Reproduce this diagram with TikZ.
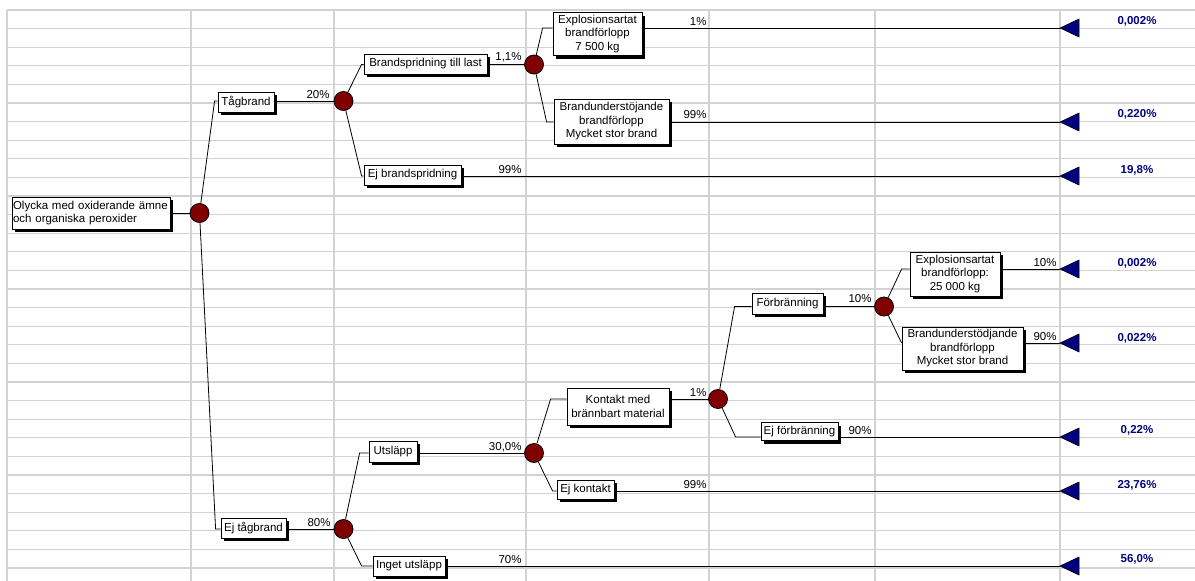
\documentclass[tikz,border=0pt]{standalone}
\usepackage{fontspec}
\setmainfont{Liberation Sans}
\usetikzlibrary{shadows}

\definecolor{eventred}{HTML}{800000}
\definecolor{endblue}{HTML}{000080}
\definecolor{gridgray}{HTML}{D2D2D2}
\newcommand\treefont{\fontsize{11.5}{13.5}\selectfont}

\tikzset{
  gridline/.style={gridgray, line width=1.3pt},
  event/.style={circle, draw, fill=eventred, minimum size=19pt, inner sep=0pt},
  outcome/.style={draw, fill=white, inner sep=1.5pt, align=center, font=\treefont,
    drop shadow={shadow xshift=3pt, shadow yshift=-3pt, fill=black, opacity=1}},
  prob/.style={font=\treefont, inner sep=0pt, anchor=base east},
  endmark/.style={draw, fill=endblue, line width=0.6pt},
  freq/.style={font=\treefont\bfseries, text=endblue, inner sep=0pt, anchor=base},
}

\begin{document}
\begin{tikzpicture}[x=1pt, y=-1pt, line width=0.8pt]
  \useasboundingbox (0,0) rectangle (1195,581);

  % spreadsheet grid
  \foreach \k in {0,...,30}
    \draw[gridline] (7,10+18.6*\k) -- (1195,10+18.6*\k);
  \foreach \x in {7,191,334,526,709,875,1060}
    \draw[gridline] (\x,10) -- (\x,581);

  % boxes
  \node[outcome, minimum width=158pt, minimum height=32pt, text width=156pt, inner sep=1pt, align=left] (root) at (91,213)
    {Olycka med oxiderande ämne\\och organiska peroxider};
  \node[outcome, minimum width=56pt, minimum height=20pt] (tag) at (246,102) {Tågbrand};
  \node[outcome, minimum width=65pt, minimum height=20pt] (ejtag) at (253.5,528) {Ej tågbrand};
  \node[outcome, minimum width=123pt, minimum height=20pt] (spridn) at (425.5,64) {Brandspridning till last};
  \node[outcome, minimum width=97pt, minimum height=20pt] (ejspridn) at (412.5,175) {Ej brandspridning};
  \node[outcome, minimum width=89pt, minimum height=43pt] (expl1) at (597.5,34)
    {Explosionsartat\\brandförlopp\\7 500 kg};
  \node[outcome, minimum width=115pt, minimum height=45pt] (brand1) at (611.5,121.5)
    {Brandunderstöjande\\brandförlopp\\Mycket stor brand};
  \node[outcome, minimum width=48pt, minimum height=21pt] (utslapp) at (393,451.5) {Utsläpp};
  \node[outcome, minimum width=72pt, minimum height=20pt] (inget) at (409,566) {Inget utsläpp};
  \node[outcome, minimum width=102pt, minimum height=37pt] (kontakt) at (618,406.5)
    {Kontakt med\\brännbart material};
  \node[outcome, minimum width=57pt, minimum height=19pt] (ejkontakt) at (585.5,489.5) {Ej kontakt};
  \node[outcome, minimum width=71pt, minimum height=21pt] (forbr) at (787.5,303.5) {Förbränning};
  \node[outcome, minimum width=77pt, minimum height=18pt] (ejforbr) at (799.5,431.5) {Ej förbränning};
  \node[outcome, minimum width=90pt, minimum height=44pt] (expl2) at (955,274)
    {Explosionsartat\\brandförlopp:\\25 000 kg};
  \node[outcome, minimum width=121pt, minimum height=43pt] (brand2) at (962.5,348.5)
    {Brandunderstödjande\\brandförlopp\\Mycket stor brand};

  % chance nodes
  \node[event] (c0) at (199.5,213) {};
  \node[event] (c1) at (343.5,101) {};
  \node[event] (c2) at (343.5,529) {};
  \node[event] (c3) at (534,64.5) {};
  \node[event] (c4) at (534,453) {};
  \node[event] (c5) at (718,399) {};
  \node[event] (c6) at (884,306.5) {};

  % end points
  \coordinate (t1) at (1060,28);
  \coordinate (t2) at (1060,122);
  \coordinate (t3) at (1060,176);
  \coordinate (t4) at (1060,269);
  \coordinate (t5) at (1060,343);
  \coordinate (t6) at (1060,437);
  \coordinate (t7) at (1060,491);
  \coordinate (t8) at (1060,566);

  % branches
  \draw (root.east |- c0) -- (c0);
  \draw (c0) -- ([xshift=-3pt]tag.west |- c1) -- (tag.west |- c1);
  \draw (c0) -- ([xshift=-5pt]ejtag.west |- c2) -- (ejtag.west |- c2);
  \draw (tag.east |- c1) -- (c1);
  \draw (ejtag.east |- c2) -- (c2);
  \draw (c1) -- ([xshift=-2pt]spridn.west |- c3) -- (spridn.west |- c3);
  \draw (c1) -- ([xshift=-2pt]ejspridn.west |- t3) -- (ejspridn.west |- t3);
  \draw (spridn.east |- c3) -- (c3);
  \draw (ejspridn.east |- t3) -- (t3);
  \draw (c3) -- ([xshift=-10pt]expl1.west |- t1) -- (expl1.west |- t1);
  \draw (c3) -- ([xshift=-7pt]brand1.west |- t2) -- (brand1.west |- t2);
  \draw (expl1.east |- t1) -- (t1);
  \draw (brand1.east |- t2) -- (t2);
  \draw (c2) -- ([xshift=-9pt]utslapp.west |- c4) -- (utslapp.west |- c4);
  \draw (c2) -- ([xshift=-11pt]inget.west |- t8) -- (inget.west |- t8);
  \draw (utslapp.east |- c4) -- (c4);
  \draw (inget.east |- t8) -- (t8);
  \draw (c4) -- ([xshift=-16pt]kontakt.west |- c5) -- (kontakt.west |- c5);
  \draw (c4) -- ([xshift=-4pt]ejkontakt.west |- t7) -- (ejkontakt.west |- t7);
  \draw (kontakt.east |- c5) -- (c5);
  \draw (ejkontakt.east |- t7) -- (t7);
  \draw (c5) -- ([xshift=-17pt]forbr.west |- c6) -- (forbr.west |- c6);
  \draw (c5) -- ([xshift=-25pt]ejforbr.west |- t6) -- (ejforbr.west |- t6);
  \draw (forbr.east |- c6) -- (c6);
  \draw (ejforbr.east |- t6) -- (t6);
  \draw (c6) -- ([xshift=-8pt]expl2.west |- t4) -- (expl2.west |- t4);
  \draw (c6) -- (brand2.west |- t5);
  \draw (expl2.east |- t4) -- (t4);
  \draw (brand2.east |- t5) -- (t5);

  % end triangles
  \foreach \t in {t1,t2,t3,t4,t5,t6,t7,t8}
    \draw[endmark] (\t) -- ++(19,-9) -- ++(0,18) -- cycle;

  % probabilities
  \node[prob] at (330,98) {20\%};
  \node[prob] at (331,526) {80\%};
  \node[prob] at (522,60) {1,1\%};
  \node[prob] at (522,173) {99\%};
  \node[prob] at (522,450) {30,0\%};
  \node[prob] at (522,563) {70\%};
  \node[prob] at (707,25) {1\%};
  \node[prob] at (707,118) {99\%};
  \node[prob] at (707,396) {1\%};
  \node[prob] at (707,488) {99\%};
  \node[prob] at (872,302) {10\%};
  \node[prob] at (872,434) {90\%};
  \node[prob] at (1057,266) {10\%};
  \node[prob] at (1057,340) {90\%};

  % outcome frequencies
  \node[freq] at (1137,24) {0,002\%};
  \node[freq] at (1137,117) {0,220\%};
  \node[freq] at (1137,173) {19,8\%};
  \node[freq] at (1137,266) {0,002\%};
  \node[freq] at (1137,341) {0,022\%};
  \node[freq] at (1137,433) {0,22\%};
  \node[freq] at (1137,488) {23,76\%};
  \node[freq] at (1137,562) {56,0\%};
\end{tikzpicture}
\end{document}
